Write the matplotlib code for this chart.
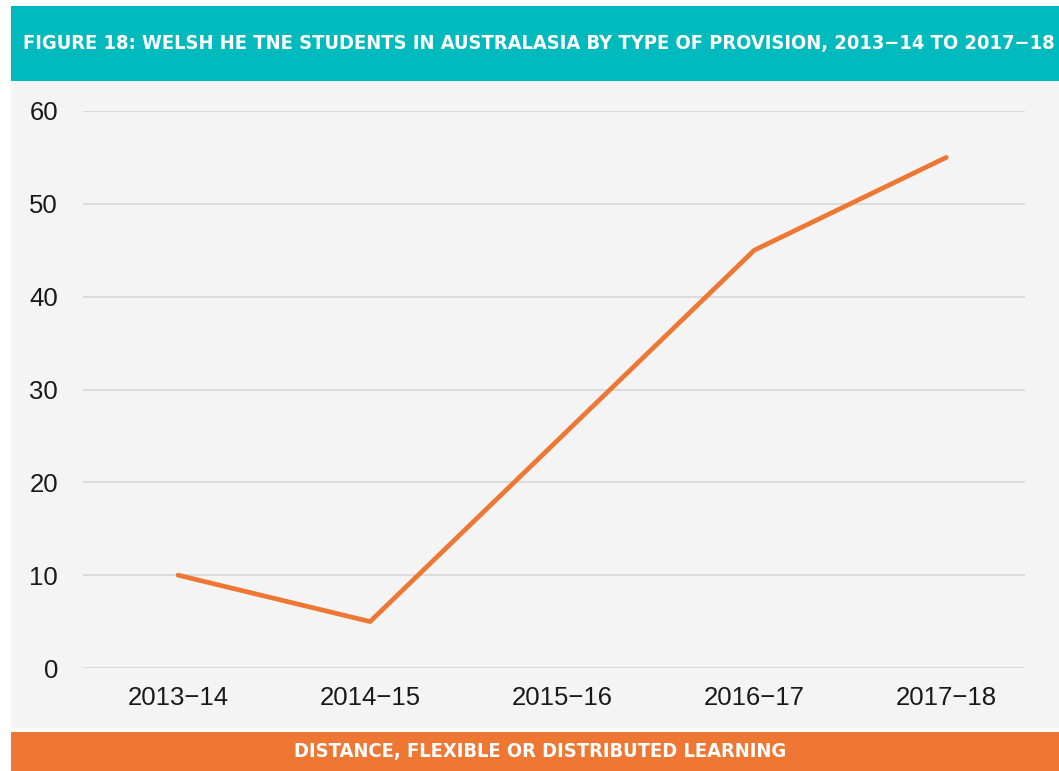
import pandas as pd
import matplotlib.pyplot as plt
from matplotlib.patches import Rectangle

# ===============================================================
# Configuration
# ===============================================================
BACKGROUND = "#F4F4F4"
TEAL = "#00BABD"
ORANGE = "#EE7734"
GRID = "#D9D9D9"
DARK = "#1A1A1A"

TITLE_FONT = ["DejaVu Sans"]
BODY_FONT = ["Liberation Sans", "DejaVu Sans"]

TITLE = "FIGURE 18: WELSH HE TNE STUDENTS IN AUSTRALASIA BY TYPE OF PROVISION, 2013\u221214 TO 2017\u221218"
FOOTER = "DISTANCE, FLEXIBLE OR DISTRIBUTED LEARNING"

# ===============================================================
# Data
# ===============================================================
df = pd.DataFrame(
    {
        "Year": ["2013\u221214", "2014\u221215", "2015\u221216", "2016\u221217", "2017\u221218"],
        "Students": [10, 5, 25, 45, 55],
    }
)

# ===============================================================
# Figure + layout
# ===============================================================
DPI = 100
fig = plt.figure(figsize=(1059 / DPI, 771 / DPI), dpi=DPI)
fig.patch.set_facecolor("white")

# banners and panel background
for y0, h, colour in [
    (1 - 81 / 771, 75 / 771, TEAL),
    (1 - 728 / 771, 647 / 771, BACKGROUND),
    (0, 39 / 771, ORANGE),
]:
    fig.add_artist(Rectangle((11 / 1059, y0), 1 - 11 / 1059, h,
                             transform=fig.transFigure, facecolor=colour,
                             edgecolor="none", zorder=-5))

ax = fig.add_axes([83 / 1059, 1 - 668 / 771, (1025 - 83) / 1059, (668 - 111) / 771])
ax.set_facecolor("none")

# ===============================================================
# Draw
# ===============================================================
x = range(len(df))
ax.plot(x, df["Students"], color=ORANGE, linewidth=3.4, solid_capstyle="round", zorder=3)

ax.set_xlim(-0.495, 4.41)
ax.set_ylim(0, 60)
ax.set_yticks(range(0, 61, 10))
ax.set_xticks(list(x))
ax.set_xticklabels(df["Year"])

ax.grid(axis="y", color=GRID, linewidth=1.3)
ax.set_axisbelow(True)
for side in ("top", "right", "left", "bottom"):
    ax.spines[side].set_visible(False)
ax.tick_params(length=0)
ax.tick_params(axis="y", pad=18)
ax.tick_params(axis="x", pad=13)
for label in ax.get_xticklabels() + ax.get_yticklabels():
    label.set_family(BODY_FONT)
    label.set_fontsize(18.5)
    label.set_color(DARK)

# ===============================================================
# Titles
# ===============================================================
fig.text(
    538.5 / 1059,
    1 - 43 / 771,
    TITLE,
    ha="center",
    va="center",
    family=TITLE_FONT,
    fontstretch="condensed",
    fontweight="bold",
    fontsize=14.4,
    color="white",
)

fig.text(
    540 / 1059,
    19 / 771,
    FOOTER,
    ha="center",
    va="center",
    family=TITLE_FONT,
    fontstretch="condensed",
    fontweight="bold",
    fontsize=14.4,
    color="white",
)

# ===============================================================
# Save
# ===============================================================
if __name__ == "__main__":
    fig.savefig("out.png", dpi=DPI, facecolor=fig.get_facecolor())
